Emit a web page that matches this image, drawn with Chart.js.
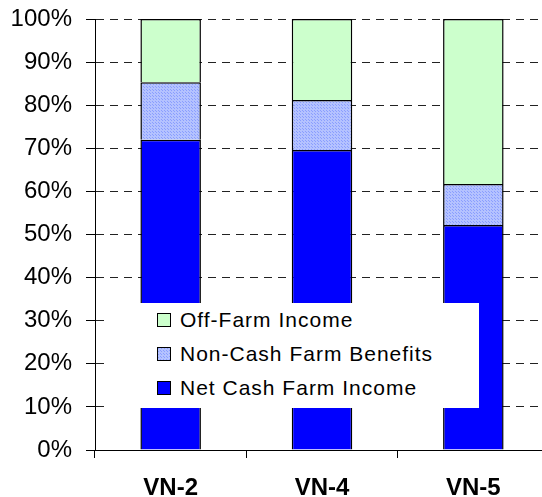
<!DOCTYPE html>
<html>
<head>
<meta charset="utf-8">
<script src="https://cdn.jsdelivr.net/npm/chart.js@4/dist/chart.umd.min.js"></script>
<style>
  html, body { margin: 0; padding: 0; background: #fff; overflow: hidden; }
  #wrap { position: relative; width: 549px; height: 497px; }
  #legend {
    position: absolute; left: 110px; top: 303px; width: 369px; height: 105px;
    background: #fff; color: #000;
    font-family: "Liberation Sans", Arial, sans-serif; font-size: 21px; letter-spacing: 1px;
  }
  #legend .item { position: absolute; left: 47px; height: 24px; display: flex; align-items: center; white-space: nowrap; }
  #legend .box { width: 14px; height: 14px; border: 1px solid #000; box-sizing: border-box; margin-right: 9px; }
</style>
</head>
<body>
<div id="wrap">
  <canvas id="incomeChart" width="549" height="497"></canvas>
  <div id="legend"></div>
</div>
<script>
// 値は図から読み取り（%）
const categories = ['VN-2', 'VN-4', 'VN-5']
const netCashFarmIncome = [72.0, 69.6, 52.2]
const nonCashFarmBenefits = [13.3, 11.6, 9.5]
const offFarmIncome = [14.7, 18.8, 38.3]
const yTickValues = [0, 10, 20, 30, 40, 50, 60, 70, 80, 90, 100]

const FONT = '"Liberation Sans", Arial, sans-serif'

// Non-Cash の網点パターン
const makeDots = () => {
  const c = document.createElement('canvas')
  c.width = 3
  c.height = 3
  const g = c.getContext('2d')
  g.fillStyle = '#b4c2ff'
  g.fillRect(0, 0, 3, 3)
  g.fillStyle = '#8a9eff'
  g.fillRect(0, 0, 1, 1)
  g.fillRect(2, 2, 1, 1)
  return c
}
const dotCanvas = makeDots()
const ctx = document.getElementById('incomeChart')
const dotPattern = ctx.getContext('2d').createPattern(dotCanvas, 'repeat')

const datasets = [
  { label: 'Net Cash Farm Income', data: netCashFarmIncome, backgroundColor: '#0000ff', swatch: '#0000ff' },
  { label: 'Non-Cash Farm Benefits', data: nonCashFarmBenefits, backgroundColor: dotPattern, swatch: 'url(' + dotCanvas.toDataURL() + ')' },
  { label: 'Off-Farm Income', data: offFarmIncome, backgroundColor: '#ccffcc', swatch: '#ccffcc' }
].map((d) => ({
  ...d,
  borderColor: '#000',
  borderWidth: 1.5,
  borderSkipped: 'start',
  categoryPercentage: 1,
  barPercentage: 0.4
}))

const chart = new Chart(ctx, {
  type: 'bar',
  data: { labels: categories, datasets: datasets },
  options: {
    responsive: false,
    animation: false,
    layout: { padding: { top: 19, right: 0, bottom: 0, left: 0 } },
    plugins: {
      legend: { display: false },
      tooltip: { enabled: false }
    },
    scales: {
      x: {
        stacked: true,
        grid: {
          offset: true,
          drawOnChartArea: false,
          drawTicks: true,
          tickLength: 8,
          color: '#000',
          lineWidth: 1
        },
        border: { color: '#000', width: 1 },
        ticks: {
          color: '#000',
          padding: 18,
          font: { family: FONT, size: 24, weight: 'bold', lineHeight: 1 }
        },
        afterFit: (s) => { s.height = 47; s.paddingLeft = 0; s.paddingRight = 0 }
      },
      y: {
        stacked: true,
        min: 0,
        max: 100,
        afterBuildTicks: (s) => { s.ticks = yTickValues.map((v) => ({ value: v })) },
        grid: {
          color: '#222',
          lineWidth: 1,
          drawTicks: true,
          tickLength: 9,
          tickColor: '#000',
          tickBorderDash: []
        },
        border: { color: '#000', width: 1, dash: [8, 6] },
        ticks: {
          color: '#000',
          padding: 14,
          font: { family: FONT, size: 24 },
          callback: (v) => v + '%'
        },
        afterFit: (s) => { s.width = 95; s.paddingTop = 0; s.paddingBottom = 0 }
      }
    }
  }
})

// 凡例（白い枠でグラフの上に重ねる）
const legendEl = document.getElementById('legend')
const rowCenters = [17, 51, 85]
datasets.slice().reverse().forEach((d, i) => {
  const item = document.createElement('div')
  item.className = 'item'
  item.style.top = (rowCenters[i] - 12) + 'px'
  const box = document.createElement('span')
  box.className = 'box'
  box.style.background = d.swatch
  const text = document.createElement('span')
  text.textContent = d.label
  item.appendChild(box)
  item.appendChild(text)
  legendEl.appendChild(item)
})
</script>
</body>
</html>
